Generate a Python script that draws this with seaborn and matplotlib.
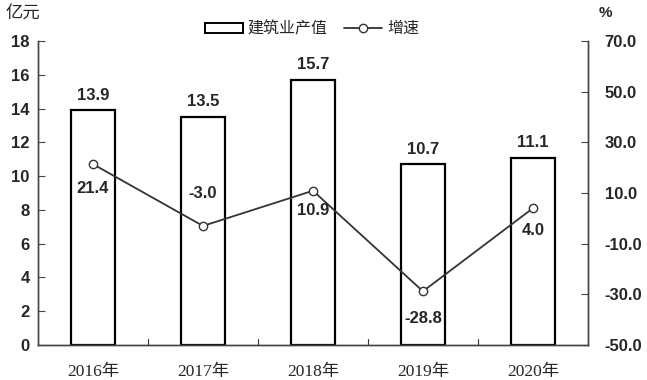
import matplotlib
matplotlib.use("Agg")
import matplotlib.pyplot as plt
import seaborn as sns
from matplotlib.lines import Line2D
from matplotlib.patches import Patch

years = ["2016年", "2017年", "2018年", "2019年", "2020年"]
output = [13.9, 13.5, 15.7, 10.7, 11.1]
growth = [21.4, -3.0, 10.9, -28.8, 4.0]

sns.set_style("white")
plt.rcParams['font.family'] = ['Liberation Sans', 'Noto Sans CJK SC', 'DejaVu Sans']

fig = plt.figure(figsize=(6.47, 3.8), dpi=100)
ax = fig.add_axes([0.0587, 0.0921, 0.85, 0.80])

sns.barplot(x=years, y=output, color="white", edgecolor="black",
            linewidth=1.6, width=0.4, ax=ax, zorder=2)
ax.set_ylim(0, 18)
ax.set_yticks(range(0, 19, 2))
ax.set_xlim(-0.5, 4.5)
ax.set_xticks([])
ax.set_xlabel("")
for i, v in enumerate(output):
    ax.text(i, v + 0.45, f"{v:.1f}", ha="center", va="bottom",
            fontsize=12, fontweight="bold")
for i, y in enumerate(years):
    ax.text(i, -1.1, y, ha="center", va="top", fontsize=12.5,
            family=['Liberation Serif', 'Noto Sans CJK SC'])
# category boundary ticks
for b in [0.5, 1.5, 2.5, 3.5]:
    ax.plot([b, b], [0, 0.35], color="#333333", lw=0.8, zorder=1)

ax2 = ax.twinx()
sns.pointplot(x=years, y=growth, ax=ax2, color="#333333", markers="o",
              linewidth=1.3, markersize=6, markerfacecolor="white",
              markeredgecolor="#333333", markeredgewidth=1.0)
ax2.set_ylim(-50, 70)
ax2.set_yticks(range(-50, 71, 20))
ax2.set_yticklabels([f"{t:.1f}" for t in range(-50, 71, 20)])
ax2.set_xlim(-0.5, 4.5)
ax2.set_xlabel("")
ax2.set_xticks([])

offsets = [-12, 18, -9, -14, -11]
for i, v in enumerate(growth):
    off = offsets[i]
    ax2.annotate(f"{v:.1f}", (i, v), xytext=(0, off), textcoords="offset points",
                 ha="center", va="top" if off < 0 else "bottom",
                 fontsize=12, fontweight="bold")

for a in (ax, ax2):
    a.spines["top"].set_visible(False)
    for s in ["left", "right", "bottom"]:
        a.spines[s].set_color("#444444")
        a.spines[s].set_linewidth(1.0)
ax.tick_params(axis="y", direction="in", length=5, width=0.8, color="#444444",
               labelsize=12, pad=6)
ax2.tick_params(axis="y", direction="in", length=5, width=0.8, color="#444444",
                labelsize=12, pad=12)
for lab in ax.get_yticklabels() + ax2.get_yticklabels():
    lab.set_fontweight("bold")

fig.text(0.008, 0.965, "亿元", fontsize=12.5, va="center", ha="left")
fig.text(0.925, 0.965, "%", fontsize=11, va="center", ha="left", fontweight="bold")

handles = [Patch(facecolor="white", edgecolor="black", linewidth=1.4),
           Line2D([0], [0], color="#333333", lw=1.3, marker="o", markersize=6,
                  markerfacecolor="white", markeredgecolor="#333333")]
fig.legend(handles, ["建筑业产值", "增速"], loc="center", bbox_to_anchor=(0.482, 0.925),
           ncol=2, frameon=False, fontsize=11.5, handlelength=2.4,
           handleheight=0.6, columnspacing=1.0, handletextpad=0.3)

fig.savefig("out.png", dpi=100)
